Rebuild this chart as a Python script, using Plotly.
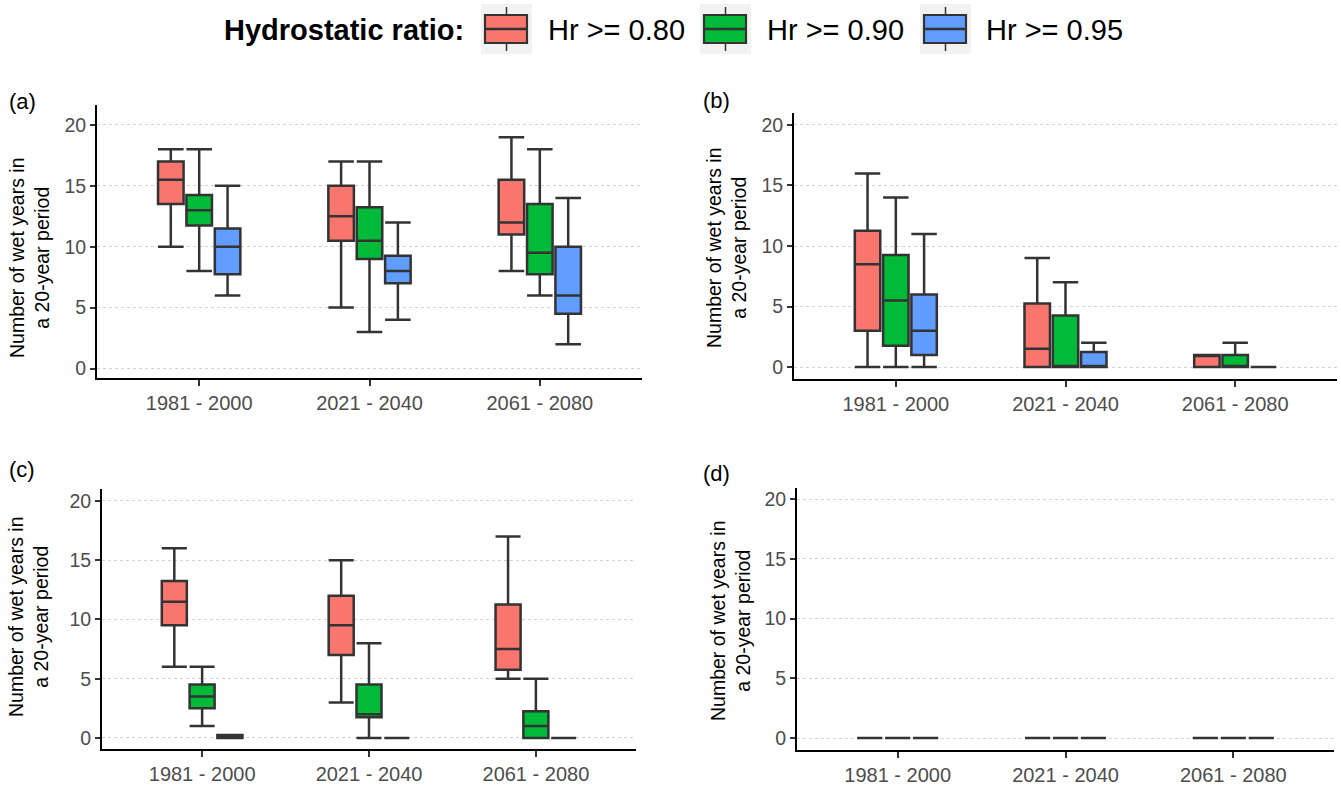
import plotly.graph_objects as go

# ---- data: five-number summaries, rows = Hr threshold, cols = period ----
periods = ["1981 - 2000", "2021 - 2040", "2061 - 2080"]
thresholds = ["Hr >= 0.80", "Hr >= 0.90", "Hr >= 0.95"]
colors = ["#F8766D", "#00BA38", "#619CFF"]

# panel (a)
a_lower = [[10, 5, 8], [8, 3, 6], [6, 4, 2]]
a_q1 = [[13.5, 10.5, 11], [11.75, 9, 7.75], [7.75, 7, 4.5]]
a_med = [[15.5, 12.5, 12], [13, 10.5, 9.5], [10, 8, 6]]
a_q3 = [[17, 15, 15.5], [14.25, 13.25, 13.5], [11.5, 9.25, 10]]
a_upper = [[18, 17, 19], [18, 17, 18], [15, 12, 14]]

# panel (b)
b_lower = [[0, 0, 0], [0, 0, 0], [0, 0, 0]]
b_q1 = [[3, 0, 0], [1.75, 0, 0], [1, 0, 0]]
b_med = [[8.5, 1.5, 1], [5.5, 0, 0], [3, 0, 0]]
b_q3 = [[11.25, 5.25, 1], [9.25, 4.25, 1], [6, 1.25, 0]]
b_upper = [[16, 9, 1], [14, 7, 2], [11, 2, 0]]

# panel (c)
c_lower = [[6, 3, 5], [1, 0, 0], [0, 0, 0]]
c_q1 = [[9.5, 7, 5.75], [2.5, 1.75, 0], [0, 0, 0]]
c_med = [[11.5, 9.5, 7.5], [3.5, 2, 1], [0, 0, 0]]
c_q3 = [[13.25, 12, 11.25], [4.5, 4.5, 2.25], [0.25, 0, 0]]
c_upper = [[16, 15, 17], [6, 8, 5], [0.25, 0, 0]]

# panel (d)
d_lower = [[0, 0, 0], [0, 0, 0], [0, 0, 0]]
d_q1 = [[0, 0, 0], [0, 0, 0], [0, 0, 0]]
d_med = [[0, 0, 0], [0, 0, 0], [0, 0, 0]]
d_q3 = [[0, 0, 0], [0, 0, 0], [0, 0, 0]]
d_upper = [[0, 0, 0], [0, 0, 0], [0, 0, 0]]

y_ticks = [0, 5, 10, 15, 20]

W, H = 1341, 790
FONT = "Arial, Liberation Sans, sans-serif"
LINE = "#333333"


def xdom(l, r):
    return [l / W, r / W]


def ydom(t, b):
    return [1 - b / H, 1 - t / H]


panels = [
    # label, stats, x-domain px, y-domain px, y range
    ("a", (a_lower, a_q1, a_med, a_q3, a_upper), (97, 642), (105, 378), [-0.78, 21.64]),
    ("b", (b_lower, b_q1, b_med, b_q3, b_upper), (794, 1337), (113, 379), [-0.99, 20.99]),
    ("c", (c_lower, c_q1, c_med, c_q3, c_upper), (102, 636), (489, 749), [-0.93, 21.0]),
    ("d", (d_lower, d_q1, d_med, d_q3, d_upper), (797, 1334), (488, 750), [-1.0, 20.92]),
]

fig = go.Figure()
layout = {}
annotations = []
shapes = []

for i, (lab, stats, xpx, ypx, yr) in enumerate(panels):
    n = "" if i == 0 else str(i + 1)
    lower, q1, med, q3, upper = stats
    for k, th in enumerate(thresholds):
        fig.add_trace(go.Box(
            name=th,
            x=periods,
            lowerfence=lower[k], q1=q1[k], median=med[k], q3=q3[k], upperfence=upper[k],
            fillcolor=colors[k],
            line=dict(color=LINE, width=2.5),
            whiskerwidth=1,
            boxpoints=False,
            showlegend=False,
            alignmentgroup=lab, offsetgroup=str(k),
            xaxis="x" + n, yaxis="y" + n,
            hoverinfo="skip",
        ))
    layout["xaxis" + n] = dict(
        domain=xdom(*xpx), anchor="y" + n, type="category",
        categoryorder="array", categoryarray=periods, range=[-0.6, 2.6],
        showgrid=False, zeroline=False, showline=True, linecolor="black", linewidth=1.8,
        ticks="outside", ticklen=6, tickwidth=1.5, tickcolor="#333333",
        tickfont=dict(family=FONT, size=20, color="#4D4D4D"), fixedrange=True,
    )
    layout["yaxis" + n] = dict(
        domain=ydom(*ypx), anchor="x" + n, range=yr,
        tickmode="array", tickvals=y_ticks,
        showgrid=True, gridcolor="#D3D3D3", gridwidth=1, griddash="3px,3px",
        zeroline=False, showline=True, linecolor="black", linewidth=1.8,
        ticks="outside", ticklen=5, tickwidth=1.5, tickcolor="#333333",
        tickfont=dict(family=FONT, size=19.5, color="#4D4D4D"), fixedrange=True,
    )

# panel letters and axis titles
letter_pos = {"a": (7, 101), "b": (701, 100), "c": (7, 470), "d": (701, 473)}
title_pos = {"a": (29, 258), "b": (726, 248), "c": (28, 617), "d": (730, 621)}
for lab in "abcd":
    lx, ly = letter_pos[lab]
    annotations.append(dict(
        text="(" + lab + ")", xref="paper", yref="paper", x=lx / W, y=1 - ly / H,
        xanchor="left", yanchor="middle", showarrow=False,
        font=dict(family=FONT, size=22, color="black"),
    ))
    tx, ty = title_pos[lab]
    annotations.append(dict(
        text="Number of wet years in<br>a 20-year period", xref="paper", yref="paper",
        x=tx / W, y=1 - ty / H, xanchor="center", yanchor="middle", textangle=-90,
        showarrow=False, align="center",
        font=dict(family=FONT, size=19.5, color="black"),
    ))

# legend row across the top
annotations.append(dict(
    text="<b>Hydrostatic ratio:</b>", xref="paper", yref="paper", x=466 / W, y=1 - 30 / H,
    xanchor="right", yanchor="middle", showarrow=False,
    font=dict(family=FONT, size=29, color="black"),
))
key_left = [481, 700, 920]
text_left = [546, 765, 984]
for k, th in enumerate(thresholds):
    kl = key_left[k]
    kr = kl + 51
    cx = (kl + kr) / 2
    shapes.append(dict(type="rect", xref="paper", yref="paper",
                       x0=kl / W, x1=kr / W, y0=1 - 54 / H, y1=1 - 4 / H,
                       fillcolor="#F2F2F2", line=dict(width=0), layer="below"))
    shapes.append(dict(type="line", xref="paper", yref="paper",
                       x0=cx / W, x1=cx / W, y0=1 - 51 / H, y1=1 - 7 / H,
                       line=dict(color=LINE, width=1.5)))
    shapes.append(dict(type="rect", xref="paper", yref="paper",
                       x0=(kl + 4) / W, x1=(kr - 5) / W, y0=1 - 43 / H, y1=1 - 15 / H,
                       fillcolor=colors[k], line=dict(color=LINE, width=2.2)))
    shapes.append(dict(type="line", xref="paper", yref="paper",
                       x0=(kl + 4) / W, x1=(kr - 5) / W, y0=1 - 29 / H, y1=1 - 29 / H,
                       line=dict(color=LINE, width=2.5)))
    annotations.append(dict(
        text=th, xref="paper", yref="paper", x=text_left[k] / W, y=1 - 30 / H,
        xanchor="left", yanchor="middle", showarrow=False,
        font=dict(family=FONT, size=29, color="black"),
    ))

fig.update_layout(
    **layout,
    width=W, height=H,
    margin=dict(l=0, r=0, t=0, b=0),
    paper_bgcolor="white", plot_bgcolor="white",
    boxmode="group", boxgap=0.5, boxgroupgap=0.1,
    annotations=annotations, shapes=shapes,
    showlegend=False,
    font=dict(family=FONT),
)

fig.write_html("out.html")
